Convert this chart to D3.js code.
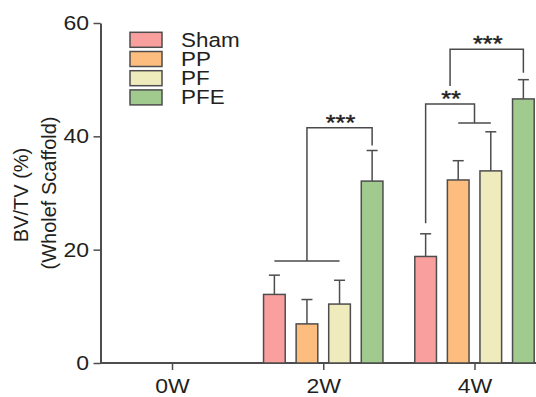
<!DOCTYPE html>
<html>
<head>
<meta charset="utf-8">
<script src="https://cdn.jsdelivr.net/npm/d3@7"></script>
<style>
  body { margin: 0; background: #fff; }
  svg { display: block; font-family: "Liberation Sans", Arial, sans-serif; }
</style>
</head>
<body>
<svg id="chart" width="536" height="397"></svg>
<script>
// chart values
var groups = ['0W', '2W', '4W'];
var series = ['Sham', 'PP', 'PF', 'PFE'];
var colors = ['#f9a09e', '#fdbd7e', '#f0ebbd', '#a0ca8e'];
var yTicks = [0, 20, 40, 60];

// mean BV/TV per series, in group order
var shamMean = [0, 12.1, 18.8];
var ppMean   = [0, 6.9, 32.3];
var pfMean   = [0, 10.4, 33.9];
var pfeMean  = [0, 32.1, 46.6];

// error (upper bar) per series
var shamErr = [0, 3.4, 4.0];
var ppErr   = [0, 4.3, 3.4];
var pfErr   = [0, 4.2, 6.9];
var pfeErr  = [0, 5.4, 3.4];

var means = [shamMean, ppMean, pfMean, pfeMean];
var errs = [shamErr, ppErr, pfErr, pfeErr];

// significance brackets (y in data units)
var brackets = [
  {group: '2W', from: ['Sham', 'PF'], to: 'PFE', base: 18.0, top: 41.5, end: 38.4, label: '***'},
  {group: '4W', from: ['PP', 'PF'], to: 'Sham', base: 42.35, top: 45.7, end: 24.65, label: '**'},
  {group: '4W', from: null, to: 'PFE', base: 48.9, top: 55.35, end: 51.2, label: '***'}
];

var svg = d3.select('#chart');
var textColor = '#231f20';
var lineColor = '#4d4d4d';
var stretch = 1.15; // reference text is drawn a bit wide

var y = d3.scaleLinear().domain([0, 60]).range([363, 23]);
var x = d3.scalePoint().domain(groups).range([172, 474.5]);
var xs = d3.scaleBand().domain(series).range([-59.7, 59.7]).paddingInner(0.335);

var rows = [];
series.forEach(function(s, i) {
  groups.forEach(function(g, j) {
    rows.push({series: s, group: g, value: means[i][j], err: errs[i][j], color: colors[i]});
  });
});
var drawn = rows.filter(function(d) { return d.value > 0; });

function cx(g, s) { return x(g) + xs(s) + xs.bandwidth() / 2; }

// y axis
var yAxis = svg.append('g')
    .attr('transform', 'translate(100.5,0)')
    .call(d3.axisLeft(y).tickValues(yTicks).tickSize(7).tickSizeOuter(0));
yAxis.select('.domain').attr('stroke', lineColor).attr('stroke-width', 2);
yAxis.selectAll('.tick line').attr('stroke', lineColor).attr('stroke-width', 1.5);
yAxis.selectAll('.tick text')
    .attr('x', 0)
    .attr('transform', 'translate(-11.5,0) scale(' + stretch + ',1)')
    .style('font-size', '20px')
    .attr('fill', textColor);

// x axis
var xAxis = svg.append('g')
    .attr('transform', 'translate(0,363)')
    .call(d3.axisBottom(x).tickSize(7).tickPadding(0));
xAxis.select('.domain').remove();
xAxis.selectAll('.tick line').attr('stroke', lineColor).attr('stroke-width', 1.5);
xAxis.selectAll('.tick text')
    .attr('y', 0)
    .attr('dy', null)
    .attr('transform', 'translate(0,30) scale(' + stretch + ',1)')
    .style('font-size', '20px')
    .attr('fill', textColor);
svg.append('line')
    .attr('x1', 100).attr('x2', 536)
    .attr('y1', y(0)).attr('y2', y(0))
    .attr('stroke', lineColor).attr('stroke-width', 2);

// y title
svg.append('text')
    .attr('transform', 'translate(28,195) rotate(-90)')
    .attr('text-anchor', 'middle')
    .style('font-size', '20px')
    .attr('fill', textColor)
    .text('BV/TV (%)');
svg.append('text')
    .attr('transform', 'translate(56,193) rotate(-90)')
    .attr('text-anchor', 'middle')
    .style('font-size', '20px')
    .attr('fill', textColor)
    .text('(Wholef Scaffold)');

// error bars
var eb = svg.append('g').attr('stroke', lineColor).attr('stroke-width', 1.5);
eb.selectAll('line.v').data(drawn).enter().append('line')
    .attr('class', 'v')
    .attr('x1', function(d) { return cx(d.group, d.series); })
    .attr('x2', function(d) { return cx(d.group, d.series); })
    .attr('y1', function(d) { return y(d.value); })
    .attr('y2', function(d) { return y(d.value + d.err); });
eb.selectAll('line.c').data(drawn).enter().append('line')
    .attr('class', 'c')
    .attr('x1', function(d) { return cx(d.group, d.series) - 5.5; })
    .attr('x2', function(d) { return cx(d.group, d.series) + 5.5; })
    .attr('y1', function(d) { return y(d.value + d.err); })
    .attr('y2', function(d) { return y(d.value + d.err); });

// bars
svg.append('g').selectAll('rect').data(drawn).enter().append('rect')
    .attr('x', function(d) { return x(d.group) + xs(d.series); })
    .attr('y', function(d) { return y(d.value); })
    .attr('width', xs.bandwidth())
    .attr('height', function(d) { return y(0) - y(d.value); })
    .attr('fill', function(d) { return d.color; })
    .attr('stroke', lineColor)
    .attr('stroke-width', 1.5);

// significance brackets
var bg = svg.append('g');
var prevMid = null;
brackets.forEach(function(b) {
  var leftX;
  if (b.from) {
    var a = cx(b.group, b.from[0]), c = cx(b.group, b.from[1]);
    bg.append('line').attr('x1', a).attr('x2', c)
        .attr('y1', y(b.base)).attr('y2', y(b.base));
    leftX = (a + c) / 2;
  } else {
    leftX = prevMid;
  }
  var rightX = cx(b.group, b.to);
  var p = d3.path();
  p.moveTo(leftX, y(b.base));
  p.lineTo(leftX, y(b.top));
  p.lineTo(rightX, y(b.top));
  p.lineTo(rightX, y(b.end));
  bg.append('path').attr('d', p.toString()).attr('fill', 'none');
  var mid = (leftX + rightX) / 2;
  prevMid = mid;
  bg.append('text')
      .attr('x', 0)
      .attr('transform', 'translate(' + (mid + 1) + ',' + (y(b.top) + 2) + ') scale(' + stretch + ',1)')
      .attr('text-anchor', 'middle')
      .style('font-size', '22px')
      .attr('fill', textColor)
      .attr('stroke', textColor)
      .attr('stroke-width', 0.4)
      .text(b.label);
});
bg.selectAll('line, path').attr('stroke', '#4a4a4a').attr('stroke-width', 1.5);

// legend
var lg = svg.append('g').selectAll('g').data(series).enter().append('g')
    .attr('transform', function(d, i) { return 'translate(130,' + (32.3 + i * 19.2) + ')'; });
lg.append('rect')
    .attr('width', 32).attr('height', 15)
    .attr('fill', function(d, i) { return colors[i]; })
    .attr('stroke', lineColor).attr('stroke-width', 1.5);
lg.append('text')
    .attr('transform', 'translate(51,14.5) scale(' + stretch + ',1)')
    .style('font-size', '19.5px')
    .attr('fill', textColor)
    .text(function(d) { return d; });
</script>
</body>
</html>
